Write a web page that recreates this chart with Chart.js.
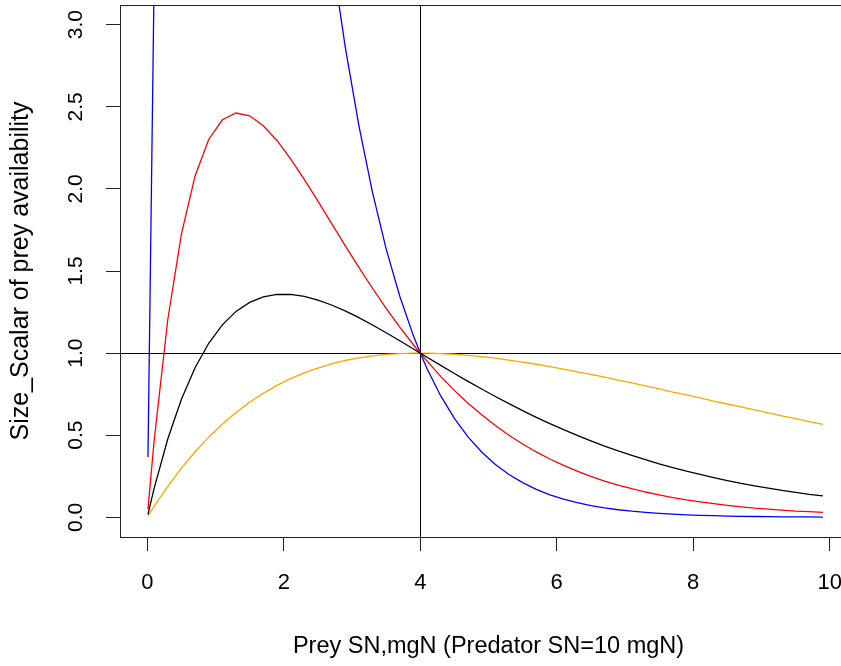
<!DOCTYPE html>
<html>
<head>
<meta charset="utf-8">
<title>Size scalar of prey availability</title>
<script src="https://cdn.jsdelivr.net/npm/chart.js@4/dist/chart.umd.min.js"></script>
<style>
  html, body { margin: 0; padding: 0; background: #fff; overflow: hidden; }
  .box { width: 871px; height: 666px; }
</style>
</head>
<body>
<div class="box"><canvas id="chart" width="871" height="666"></canvas></div>
<script>
const preySN = [0.01, 0.1, 0.3, 0.5, 0.7, 0.9, 1.1, 1.3, 1.5, 1.7, 1.9, 2.1, 2.3, 2.5, 2.7, 2.9, 3.1, 3.3, 3.5, 3.7, 3.9, 4.0,
  4.1, 4.3, 4.5, 4.7, 4.9, 5.1, 5.3, 5.5, 5.7, 5.9, 6.1, 6.3, 6.5, 6.7, 6.9, 7.1, 7.3, 7.5, 7.7, 7.9,
  8.1, 8.3, 8.5, 8.7, 8.9, 9.1, 9.3, 9.5, 9.7, 9.9]

const blackScalar = [0.018, 0.176, 0.477, 0.719, 0.911, 1.060, 1.172, 1.254, 1.309, 1.342, 1.357, 1.358, 1.345, 1.323, 1.293, 1.257, 1.216, 1.171, 1.124, 1.075, 1.025, 1.0,
  0.975, 0.925, 0.876, 0.828, 0.781, 0.736, 0.692, 0.650, 0.609, 0.570, 0.534, 0.499, 0.466, 0.434, 0.405, 0.377, 0.351, 0.326, 0.303, 0.281,
  0.261, 0.242, 0.224, 0.207, 0.192, 0.178, 0.164, 0.152, 0.140, 0.130]
const redScalar = [0.050, 0.466, 1.203, 1.725, 2.079, 2.301, 2.421, 2.462, 2.445, 2.385, 2.295, 2.183, 2.058, 1.925, 1.790, 1.654, 1.522, 1.395, 1.273, 1.158, 1.051, 1.0,
  0.951, 0.858, 0.773, 0.695, 0.624, 0.559, 0.500, 0.446, 0.398, 0.355, 0.316, 0.281, 0.249, 0.221, 0.196, 0.174, 0.154, 0.136, 0.120, 0.106,
  0.094, 0.083, 0.073, 0.064, 0.056, 0.050, 0.044, 0.038, 0.034, 0.030]
const blueScalar = [0.367, 3.274, 7.650, 9.930, 10.827, 10.84, 10.318, 9.497, 8.534, 7.534, 6.556, 5.644, 4.814, 4.076, 3.428, 2.867, 2.387, 1.979, 1.635, 1.346, 1.105, 1.0,
  0.905, 0.739, 0.602, 0.490, 0.398, 0.322, 0.261, 0.211, 0.170, 0.137, 0.111, 0.089, 0.071, 0.057, 0.046, 0.037, 0.030, 0.024, 0.019, 0.015,
  0.012, 0.0096, 0.0077, 0.0061, 0.0049, 0.0039, 0.0031, 0.0025, 0.0020, 0.0016]
const orangeScalar = [0.007, 0.066, 0.189, 0.300, 0.399, 0.488, 0.568, 0.638, 0.701, 0.755, 0.803, 0.844, 0.880, 0.909, 0.934, 0.955, 0.971, 0.983, 0.992, 0.997, 1.000, 1.0,
  1.000, 0.997, 0.993, 0.986, 0.978, 0.969, 0.957, 0.945, 0.932, 0.917, 0.902, 0.886, 0.870, 0.853, 0.836, 0.818, 0.800, 0.782, 0.763, 0.745,
  0.727, 0.708, 0.690, 0.672, 0.654, 0.636, 0.618, 0.601, 0.583, 0.566]

const xTicks = [0, 2, 4, 6, 8, 10]
const xTickLabels = ['0', '2', '4', '6', '8', '10']
const yTicks = [0, 0.5, 1, 1.5, 2, 2.5, 3]
const yTickLabels = ['0.0', '0.5', '1.0', '1.5', '2.0', '2.5', '3.0']

const refX = 4
const refY = 1

const fontName = "'Liberation Sans', Arial, sans-serif"

function toPoints(values) {
  return preySN.map((x, i) => ({ x: x, y: values[i] }))
}

function makeLine(values, color) {
  return {
    data: toPoints(values),
    borderColor: color,
    borderWidth: 1.3,
    pointRadius: 0,
    tension: 0,
    fill: false
  }
}

// abline cross + the plot box (right side is past the 841px window)
const frame = {
  id: 'frame',
  beforeDatasetsDraw(chart) {
    const { ctx, chartArea: a, scales } = chart
    const px = Math.round(scales.x.getPixelForValue(refX)) + 0.5
    const py = Math.round(scales.y.getPixelForValue(refY)) + 0.5
    ctx.save()
    ctx.strokeStyle = '#000'
    ctx.lineWidth = 1
    ctx.beginPath()
    ctx.moveTo(px, a.top)
    ctx.lineTo(px, a.bottom)
    ctx.moveTo(a.left, py)
    ctx.lineTo(a.right, py)
    ctx.stroke()
    ctx.strokeStyle = '#222'
    ctx.strokeRect(a.left + 0.5, a.top + 0.5, a.right - a.left - 1, a.bottom - a.top)
    ctx.restore()
  }
}

new Chart(document.getElementById('chart'), {
  type: 'line',
  data: {
    datasets: [
      makeLine(blackScalar, '#000000'),
      makeLine(redScalar, '#ff0000'),
      makeLine(blueScalar, '#0000ff'),
      makeLine(orangeScalar, '#ffa500')
    ]
  },
  options: {
    responsive: false,
    animation: false,
    layout: { padding: { top: 5, right: 14, left: 0, bottom: 0 } },
    plugins: {
      legend: { display: false },
      tooltip: { enabled: false }
    },
    scales: {
      x: {
        type: 'linear',
        min: -0.4,
        max: 10.4,
        afterBuildTicks: (s) => { s.ticks = xTicks.map(v => ({ value: v })) },
        afterFit: (s) => {
          s.height = 129
          s.paddingLeft = 0
          s.paddingRight = 0
        },
        border: { display: false },
        grid: { drawOnChartArea: false, drawTicks: true, tickLength: 14, color: '#222', lineWidth: 1 },
        ticks: {
          autoSkip: false,
          maxRotation: 0,
          padding: 19,
          color: '#000',
          font: { family: fontName, size: 22 },
          callback: (v, i) => xTickLabels[i]
        },
        title: {
          display: true,
          text: 'Prey SN,mgN (Predator SN=10 mgN)',
          color: '#000',
          font: { family: fontName, size: 23.5 },
          padding: { top: 0, bottom: 5 }
        }
      },
      y: {
        type: 'linear',
        min: -0.12,
        max: 3.12,
        afterBuildTicks: (s) => { s.ticks = yTicks.map(v => ({ value: v })) },
        afterFit: (s) => {
          s.width = 120
          s.paddingTop = 0
          s.paddingBottom = 0
        },
        border: { display: false },
        grid: { drawOnChartArea: false, drawTicks: true, tickLength: 14, color: '#222', lineWidth: 1 },
        ticks: {
          autoSkip: false,
          minRotation: 90,
          maxRotation: 90,
          crossAlign: 'center',
          padding: 15,
          color: '#000',
          font: { family: fontName, size: 21 },
          callback: (v, i) => yTickLabels[i]
        },
        title: {
          display: true,
          text: 'Size_Scalar of prey availability',
          color: '#000',
          font: { family: fontName, size: 25 },
          padding: { top: 6, bottom: 0 }
        }
      }
    }
  },
  plugins: [frame]
})
</script>
</body>
</html>
